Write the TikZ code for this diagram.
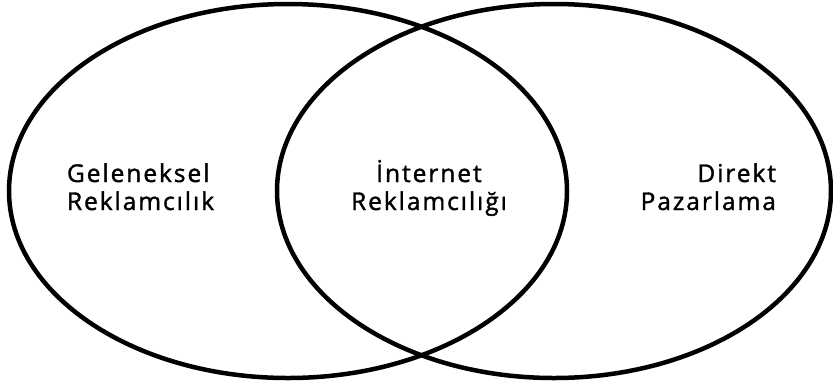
\documentclass[tikz,border=0pt]{standalone}
\usepackage{fontspec}
\setmainfont{Open Sans}[LetterSpace=8,FakeBold=1.5]
\begin{document}
\begin{tikzpicture}[x=1pt,y=-1pt,
  venn/.style={draw=black,line width=4.5pt},
  lbl/.style={inner sep=0pt,outer sep=0pt,font=\fontsize{24.5}{28}\selectfont}]
\useasboundingbox (0,0) rectangle (833,384);
\draw[venn] (288,191) ellipse [x radius=279, y radius=187];
\draw[venn] (554,191) ellipse [x radius=277, y radius=187];
\node[lbl,anchor=base west] (g1) at (67,182) {Geleneksel};
\node[lbl,anchor=base west] (g2) at (67,210) {Reklamcılık};
\node[lbl,anchor=base] (i1) at (429,182) {İnternet};
\node[lbl,anchor=base] (i2) at (429,210) {Reklamcılığı};
\node[lbl,anchor=base east] (d1) at (776,182) {Direkt};
\node[lbl,anchor=base east] (d2) at (776,210) {Pazarlama};
\end{tikzpicture}
\end{document}
